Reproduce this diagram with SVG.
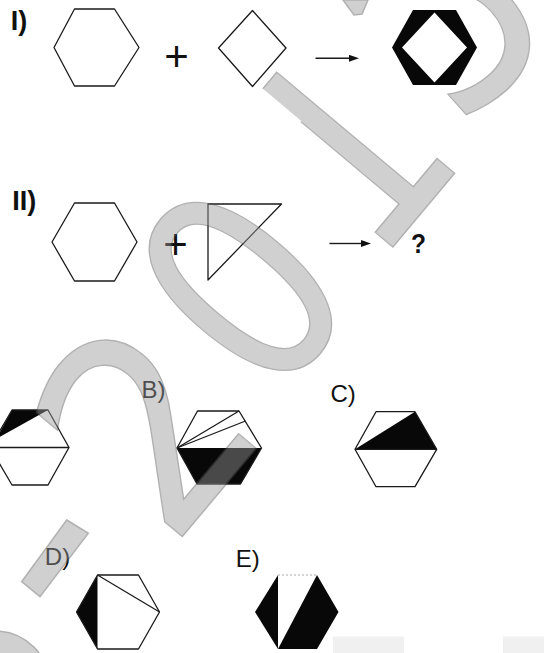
<svg xmlns="http://www.w3.org/2000/svg" width="544" height="653" viewBox="0 0 544 653">
  <defs>
    <marker id="arrowhead" markerUnits="userSpaceOnUse" markerWidth="10" markerHeight="7" refX="0" refY="3.5" orient="auto">
      <path d="M0,0 L10,3.5 L0,7 z" fill="#111"/>
    </marker>
    <clipPath id="clip-one" clipPathUnits="userSpaceOnUse">
      <polygon points="-8,-300 300,-300 300,300 -300,300 -300,-50 -8,-50"/>
    </clipPath>
    <clipPath id="clip-five" clipPathUnits="userSpaceOnUse">
      <polygon points="5,-68 300,-68 300,400 -300,400 -300,-16 5,-16"/>
    </clipPath>
  </defs>
  <style>
    .ln { fill: none; stroke: #1a1a1a; stroke-width: 1.3; stroke-linejoin: round; }
    .blk { fill: #080808; stroke: none; }
    .conn { fill: none; stroke: #1a1a1a; stroke-width: 1.4; marker-end: url(#arrowhead); }
    .lab { font-family: "Liberation Sans", Arial, sans-serif; font-size: 24px; fill: #111; }
    .num { font-family: "Liberation Sans", Arial, sans-serif; font-size: 27px; font-weight: bold; fill: #111; }
    .op { font-family: "Liberation Sans", Arial, sans-serif; font-size: 42px; fill: #111; text-anchor: middle; }
    .wm { font-family: "DejaVu Sans", sans-serif; font-size: 276px; text-anchor: middle; }
    .wmk { fill: #999; stroke: #555; stroke-width: 1.5; }
    .pad { fill: #f0f0f0; }
  </style>
  <rect x="0" y="0" width="544" height="653" fill="#ffffff"/>

  <!-- Row I -->
  <g id="label-I"><text class="num" x="10.8" y="29.5">I)</text></g>
  <g id="hexagon-I"><polygon class="ln" points="54,47.5 74.5,9 114.5,9 139,47.5 114.5,86 74.5,86"/></g>
  <g id="plus-I"><text class="op" x="176.5" y="70.5">+</text></g>
  <g id="diamond-I"><polygon class="ln" points="218.5,48 252.5,10.5 286,48 252.5,86.5"/></g>
  <g id="result-I"><path class="blk" fill-rule="evenodd" d="M392,47.5 L413,10 L456,10 L477,47.5 L456,85 L413,85 Z M434.5,12.5 L402,47.5 L434.5,82.5 L467,47.5 Z"/></g>

  <!-- Row II -->
  <g id="label-II"><text class="num" x="12.2" y="210">II)</text></g>
  <g id="hexagon-II"><polygon class="ln" points="52,242 74.5,203 114.5,203 137,242 114.5,281 74.5,281"/></g>
  <g id="plus-II"><text class="op" x="175.5" y="259">+</text></g>
  <g id="triangle-II"><polygon class="ln" points="208,204 281.5,204 208,280"/></g>
  <g id="question-II"><text class="num" x="411" y="253" font-size="32" textLength="15" lengthAdjust="spacingAndGlyphs">?</text></g>

  <!-- Options -->
  <g id="option-A">
    <polygon class="blk" points="12,410 48,410 -4,439"/>
    <polygon class="ln" points="-10,447.5 12,410 48,410 69,447.5 48,485 12,485"/>
    <line class="ln" x1="-10" y1="447.5" x2="69" y2="447.5"/>
  </g>
  <g id="option-B">
    <text class="lab" x="141.5" y="398">B)</text>
    <polygon class="blk" points="177,448 261.5,448 240.5,484 197,484"/>
    <polygon class="ln" points="177,448 197.5,411 239,411 261.5,448 240.5,484 197,484"/>
    <line class="ln" x1="177" y1="448" x2="239" y2="411"/>
    <line class="ln" x1="177" y1="448" x2="245.5" y2="421"/>
  </g>
  <g id="option-C">
    <text class="lab" x="330.5" y="402">C)</text>
    <polygon class="blk" points="355,449.3 415,411.7 436.7,449.3"/>
    <polygon class="ln" points="355,449.3 376,411.7 415,411.7 436.7,449.3 415,486.7 376,486.7"/>
    <line class="ln" x1="355" y1="449.3" x2="436.7" y2="449.3"/>
  </g>
  <g id="option-D">
    <text class="lab" x="44.8" y="565">D)</text>
    <polygon class="blk" points="76.5,612 97.5,575 97.5,649"/>
    <polygon class="ln" points="76.5,612 97.5,575 138.5,575 159.5,612 138.5,649 97.5,649"/>
    <line class="ln" x1="97.5" y1="575" x2="159.5" y2="612"/>
  </g>
  <g id="option-E">
    <text class="lab" x="235.7" y="567">E)</text>
    <polygon class="blk" points="255,612 278,575 278,649"/>
    <polygon class="blk" points="317,575 338.5,612 317,649 278,649"/>
    <line x1="278" y1="575" x2="317" y2="575" stroke="#aaa" stroke-width="1" stroke-dasharray="2 2"/>
  </g>

  <!-- Connectors -->
  <g id="connectors">
    <line class="conn" x1="315.5" y1="58.3" x2="349" y2="58.3"/>
    <line class="conn" x1="329.5" y1="243.5" x2="361" y2="243.5"/>
  </g>

  <!-- Background pads -->
  <g id="pads">
    <rect class="pad" x="333" y="636.5" width="71" height="17"/>
    <rect class="pad" x="503" y="636.5" width="41" height="17"/>
  </g>

  <!-- Watermark -->
  <g id="watermark" opacity="0.45">
    <text class="wm wmk" transform="translate(144,425) rotate(-50) scale(0.9,1)" x="0" y="101">2</text>
    <text class="wm wmk" transform="translate(240,286) rotate(-50) scale(0.83,1)" x="0" y="101">0</text>
    <text class="wm wmk" transform="translate(344,148) rotate(-50) scale(0.83,1)" x="0" y="101" clip-path="url(#clip-one)">1</text>
    <text class="wm wmk" transform="translate(468,32) rotate(-42) scale(0.85,1)" x="0" y="65" clip-path="url(#clip-five)">5</text>
    <polygon class="wmk" points="343,0 368,0 362,14 354,15"/>
    <polygon class="wmk" points="66.7,520 88.3,533.3 40,596.7 21.7,581.7"/>
    <circle class="wmk" cx="-5" cy="686" r="55"/>
  </g>
</svg>
